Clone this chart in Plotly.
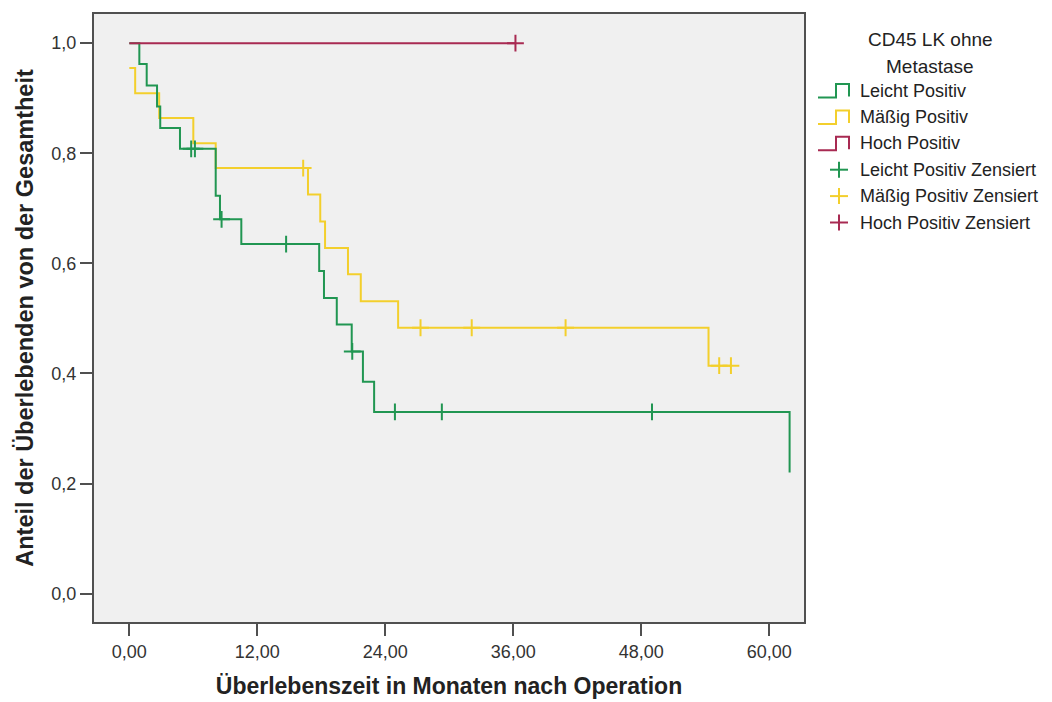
import plotly.graph_objects as go

# ---------------- data ----------------
group_names = ["Leicht Positiv", "Mäßig Positiv", "Hoch Positiv"]
censor_names = ["Leicht Positiv Zensiert", "Mäßig Positiv Zensiert", "Hoch Positiv Zensiert"]
legend_title_lines = ["CD45 LK ohne", "Metastase"]

leicht_t = [0, 0.94, 1.63, 2.6, 2.9, 4.75, 8.1, 8.5, 10.5, 17.8, 18.25, 19.45, 20.85, 21.9, 22.95, 61.9]
leicht_s = [1.0, 0.962, 0.923, 0.885, 0.846, 0.808, 0.723, 0.680, 0.635, 0.586, 0.537, 0.489, 0.440, 0.385, 0.330, 0.220]
leicht_cens_t = [5.8, 6.15, 8.65, 14.7, 20.9, 24.9, 29.3, 49.0]
leicht_cens_s = [0.808, 0.808, 0.680, 0.635, 0.440, 0.330, 0.330, 0.330]

maessig_t = [0, 0.55, 2.8, 6.0, 8.1, 16.75, 17.9, 18.35, 20.5, 21.7, 25.2, 54.3]
maessig_s = [0.955, 0.909, 0.864, 0.818, 0.773, 0.725, 0.676, 0.628, 0.580, 0.531, 0.483, 0.414]
maessig_cens_t = [16.3, 27.3, 32.1, 40.9, 55.3, 56.4]
maessig_cens_s = [0.773, 0.483, 0.483, 0.483, 0.414, 0.414]

hoch_t = [0]
hoch_s = [1.0]
hoch_cens_t = [36.2]
hoch_cens_s = [1.0]

x_tickvals = [0, 12, 24, 36, 48, 60]
x_ticktext = ["0,00", "12,00", "24,00", "36,00", "48,00", "60,00"]
y_tickvals = [0.0, 0.2, 0.4, 0.6, 0.8, 1.0]
y_ticktext = ["0,0", "0,2", "0,4", "0,6", "0,8", "1,0"]

x_title = "Überlebenszeit in Monaten nach Operation"
y_title = "Anteil der Überlebenden von der Gesamtheit"

# ---------------- style ----------------
colors = ["#219652", "#f3cf2c", "#a82a52"]
FONT = "Liberation Sans, Arial, sans-serif"
W, H = 1052, 702
L, R, T, B = 94, 804, 14, 622   # plot area in pixels

series = [
    (leicht_t, leicht_s, leicht_cens_t, leicht_cens_s),
    (maessig_t, maessig_s, maessig_cens_t, maessig_cens_s),
    (hoch_t, hoch_s, hoch_cens_t, hoch_cens_s),
]

fig = go.Figure()
draw_order = [1, 0, 2]
for i in draw_order:
    t, s, ct, cs = series[i]
    xs, ys = list(t), list(s)
    if ct and max(ct) > xs[-1]:
        xs.append(max(ct))
        ys.append(ys[-1])
    fig.add_trace(go.Scatter(x=xs, y=ys, mode="lines", line=dict(color=colors[i], width=2, shape="hv"),
                             name=group_names[i], showlegend=False, hoverinfo="skip"))
for i in draw_order:
    t, s, ct, cs = series[i]
    fig.add_trace(go.Scatter(x=ct, y=cs, mode="markers",
                             marker=dict(symbol="cross-thin", size=12, line=dict(color=colors[i], width=2)),
                             name=censor_names[i], showlegend=False, hoverinfo="skip"))


def px(x):
    return (x - L) / (R - L)


def py(y):
    return 1 - (y - T) / (B - T)


shapes = []
annotations = []
# legend title
for k, line in enumerate(legend_title_lines):
    annotations.append(dict(x=px(930), y=py([39, 66][k]), xref="paper", yref="paper", text=line,
                            showarrow=False, xanchor="center", yanchor="middle",
                            font=dict(family=FONT, size=19, color="#222")))
row_y = [89.5, 115.9, 142.3, 168.7, 195.1, 221.5]
labels = group_names + censor_names
for k in range(6):
    yc = row_y[k]
    col = colors[k % 3]
    if k < 3:
        path = "M {} {} L {} {} L {} {} L {} {} L {} {}".format(
            px(818), py(yc + 8), px(836), py(yc + 8), px(836), py(yc - 5.5),
            px(849), py(yc - 5.5), px(849), py(yc + 7))
        shapes.append(dict(type="path", path=path, xref="paper", yref="paper",
                           line=dict(color=col, width=2)))
    else:
        shapes.append(dict(type="line", xref="paper", yref="paper", x0=px(830), x1=px(848),
                           y0=py(yc + 1), y1=py(yc + 1), line=dict(color=col, width=2)))
        shapes.append(dict(type="line", xref="paper", yref="paper", x0=px(839), x1=px(839),
                           y0=py(yc - 7), y1=py(yc + 9), line=dict(color=col, width=2)))
    annotations.append(dict(x=px(858), y=py(yc + 1), xref="paper", yref="paper", text=labels[k],
                            showarrow=False, xanchor="left", yanchor="middle",
                            font=dict(family=FONT, size=18, color="#222")))

axis_common = dict(showgrid=False, zeroline=False, showline=True, mirror=True, linecolor="#505050",
                   linewidth=2, ticks="outside", ticklen=12, tickwidth=2, tickcolor="#505050",
                   automargin=False,
                   tickfont=dict(family=FONT, size=18, color="#333"))

fig.update_layout(
    width=W, height=H,
    margin=dict(l=L, r=W - R, t=T, b=H - B, pad=0, autoexpand=False),
    paper_bgcolor="white", plot_bgcolor="#f0f0f0",
    showlegend=False,
    xaxis=dict(range=[-3.31, 63.25], tickvals=x_tickvals, ticktext=x_ticktext,
               title=dict(text="<b>" + x_title + "</b>", font=dict(family=FONT, size=23, color="#222"), standoff=17),
               **axis_common),
    yaxis=dict(range=[-0.0516, 1.053], tickvals=y_tickvals, ticktext=y_ticktext,
               title=dict(text="<b>" + y_title + "</b>", font=dict(family=FONT, size=23.5, color="#222"), standoff=11),
               **axis_common),
    shapes=shapes, annotations=annotations,
)

fig.write_html("out.html")
